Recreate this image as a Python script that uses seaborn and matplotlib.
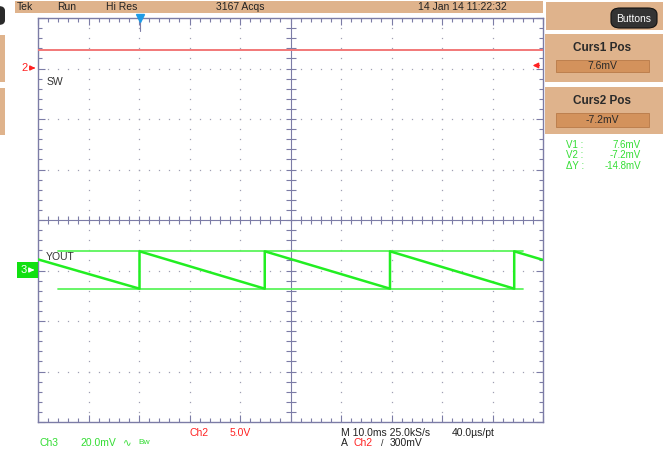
import numpy as np
import pandas as pd
import matplotlib
matplotlib.use("Agg")
import matplotlib.pyplot as plt
from matplotlib.patches import Rectangle, FancyBboxPatch, FancyArrowPatch
import seaborn as sns

# ---- acquisition record (time in ms, 10 ms/div over 10 divisions) ----
time_ms = [0.0, 20.1, 20.1, 44.9, 44.9, 69.7, 69.7, 94.3, 94.3, 100.0]
vout_mV = [4.4, -7.2, 7.6, -7.2, 7.6, -7.2, 7.6, -7.2, 7.6, 4.2]
sw_time_ms = [0.0, 100.0]
sw_V = [1.8, 1.8]

curs1_mV = 7.6
curs2_mV = -7.2
curs_span_ms = [4.0, 96.0]
trig_pos_ms = 20.2
trig_level_V = 0.3

# vertical settings
ch2_scale_V = 5.0        # V/div
ch2_offset_div = 3.0
ch3_scale_mV = 20.0      # mV/div
ch3_offset_div = -1.0

W, H = 663, 459
GRAT = "#7c7ca6"
DOT = "#a0a0b4"
TAN = "#dfb38c"
TAN_DARK = "#d3925c"
GREEN = "#22ee22"
GREEN_TXT = "#33dd33"
RED = "#f27878"
RED_TXT = "#ff2222"
FONT = ["Liberation Sans", "DejaVu Sans"]

sns.set_style("white")
plt.rcParams["font.family"] = FONT


def fp(x, y):
    """screen pixel -> figure fraction"""
    return x / W, 1 - y / H


fig = plt.figure(figsize=(W / 100, H / 100), dpi=100)
fig.patch.set_facecolor("white")

# ---------- main graticule axes ----------
ax = fig.add_axes([38 / W, 1 - 422 / H, 505 / W, 404 / H])
ax.set_xlim(0, 100)
ax.set_ylim(-4, 4)
ax.set_facecolor("white")

# dotted division lines
minor_x = np.arange(0, 100.01, 2.0)
minor_y = np.arange(-4, 4.01, 0.2)
for gx in range(10, 100, 10):
    if gx == 50:
        continue
    ax.plot([gx] * len(minor_y), minor_y, ls="none", marker="s", ms=0.9,
            mec="none", mfc=DOT, zorder=1)
for gy in range(-3, 4):
    if gy == 0:
        continue
    ax.plot(minor_x, [gy] * len(minor_x), ls="none", marker="s", ms=0.9,
            mec="none", mfc=DOT, zorder=1)

# centre cross with minor ticks
ax.axhline(0, color=GRAT, lw=0.8, zorder=1)
ax.axvline(50, color=GRAT, lw=0.8, zorder=1)
ax.plot(minor_x, np.zeros_like(minor_x), ls="none", marker="|", ms=6,
        mew=0.8, color=GRAT, zorder=1)
ax.plot(np.full_like(minor_y, 50), minor_y, ls="none", marker="_", ms=7,
        mew=0.8, color=GRAT, zorder=1)

# border ticks
ax.set_xticks(np.arange(0, 101, 10))
ax.set_xticks(minor_x, minor=True)
ax.set_yticks(np.arange(-4, 5, 1))
ax.set_yticks(minor_y, minor=True)
ax.tick_params(which="both", direction="in", top=True, right=True,
               bottom=True, left=True, labelbottom=False, labelleft=False,
               color=GRAT, width=0.8)
ax.tick_params(which="major", length=5)
ax.tick_params(which="minor", length=3)
for s in ax.spines.values():
    s.set_color(GRAT)
    s.set_linewidth(1.0)

# ---------- traces ----------
df_sw = pd.DataFrame({"t": sw_time_ms,
                      "div": [ch2_offset_div + v / ch2_scale_V for v in sw_V]})
df_out = pd.DataFrame({"t": time_ms,
                       "div": [ch3_offset_div + v / ch3_scale_mV for v in vout_mV]})

# cursors on Ch3
for c in (curs1_mV, curs2_mV):
    yc = ch3_offset_div + c / ch3_scale_mV
    dfc = pd.DataFrame({"t": curs_span_ms, "div": [yc, yc]})
    sns.lineplot(data=dfc, x="t", y="div", ax=ax, color="#5cf55c", lw=1.3,
                 sort=False, estimator=None, zorder=3)

sns.lineplot(data=df_sw, x="t", y="div", ax=ax, color=RED, lw=1.4,
             sort=False, estimator=None, zorder=4)
sns.lineplot(data=df_out, x="t", y="div", ax=ax, color=GREEN, lw=1.8,
             sort=False, estimator=None, zorder=4)
ax.set_xlabel("")
ax.set_ylabel("")

# trigger position marker
ax.plot([trig_pos_ms], [4.0], marker="v", ms=6, color="#1e9be6", mec="#1e9be6",
        clip_on=False, zorder=6)
ax.plot([trig_pos_ms, trig_pos_ms], [3.95, 3.75], color=GRAT, lw=0.8, zorder=5)

# trigger level arrow (right edge)
trig_div = ch2_offset_div + trig_level_V / ch2_scale_V
ax.annotate("", xy=(97.4, trig_div), xytext=(99.8, trig_div),
            arrowprops=dict(arrowstyle="-|>", color=RED_TXT, lw=1.0,
                            mutation_scale=8), zorder=6)

# trace labels
ax.text(1.6, 3.0 - 0.26, "SW", color="#333333", fontsize=7.5, va="center",
        ha="left")
ax.text(1.6, -0.74, "YOUT", color="#333333", fontsize=7.5, va="center",
        ha="left")

# ---------- ground markers left of the graticule ----------
fig.text(*fp(25, 68), "2", color=RED_TXT, fontsize=8, ha="center",
         va="center")
fig.add_artist(FancyArrowPatch(
    fp(30, 68), fp(38, 68), transform=fig.transFigure, arrowstyle="-|>",
    mutation_scale=7, color=RED_TXT, lw=1.0))

fig.add_artist(Rectangle(fp(17, 278), 21 / W, 16 / H, transform=fig.transFigure,
                         facecolor="#11e011", edgecolor="none"))
fig.text(*fp(23.5, 270), "3", color="white", fontsize=8, ha="center",
         va="center")
fig.add_artist(FancyArrowPatch(
    fp(29, 270), fp(37, 270), transform=fig.transFigure, arrowstyle="-|>",
    mutation_scale=7, color="white", lw=1.0))

# ---------- status bar ----------
fig.add_artist(Rectangle(fp(15, 13), (543 - 15) / W, 12 / H,
                         transform=fig.transFigure, facecolor=TAN,
                         edgecolor="none"))
for x, s in [(17, "Tek"), (57, "Run"), (106, "Hi Res"), (216, "3167 Acqs"),
             (418, "14 Jan 14 11:22:32")]:
    fig.text(*fp(x, 7.5), s, fontsize=7.5, color="#222222", va="center",
             ha="left")

# left edge panel stubs
fig.add_artist(FancyBboxPatch(fp(-6, 25), 11 / W, 19 / H,
                              boxstyle="round,pad=0,rounding_size=0.01",
                              transform=fig.transFigure, facecolor="#2a2a2a",
                              edgecolor="none"))
for y0, y1 in [(35, 82), (88, 135)]:
    fig.add_artist(Rectangle(fp(0, y1), 5 / W, (y1 - y0) / H,
                             transform=fig.transFigure, facecolor=TAN,
                             edgecolor="none"))

# ---------- right-hand menu ----------
fig.add_artist(Rectangle(fp(546, 30), (W - 546) / W, 28 / H,
                         transform=fig.transFigure, facecolor=TAN,
                         edgecolor="none"))
fig.add_artist(FancyBboxPatch(fp(611, 28), 46 / W, 20 / H,
                              boxstyle="round,pad=0,rounding_size=0.014",
                              transform=fig.transFigure, facecolor="#333333",
                              edgecolor="#111111", lw=0.8))
fig.text(*fp(634, 18.5), "Buttons", color="white", fontsize=7.5, ha="center",
         va="center")

for (y0, y1, title, by0, by1, val) in [(34, 82, "Curs1 Pos", 60, 72, "7.6mV"),
                                       (87, 134, "Curs2 Pos", 113, 127, "-7.2mV")]:
    fig.add_artist(Rectangle(fp(545, y1), (W - 545) / W, (y1 - y0) / H,
                             transform=fig.transFigure, facecolor=TAN,
                             edgecolor="none"))
    fig.text(*fp(602, y0 + 14), title, fontsize=8.5, fontweight="bold",
             color="#2a2a2a", ha="center", va="center")
    fig.add_artist(Rectangle(fp(556, by1), 93 / W, (by1 - by0) / H,
                             transform=fig.transFigure, facecolor=TAN_DARK,
                             edgecolor="#b87a48", lw=0.6))
    fig.text(*fp(602, (by0 + by1) / 2), val, fontsize=7.5, color="#2a2a2a",
             ha="center", va="center")

delta_mV = curs2_mV - curs1_mV
for y, lab, v in [(145, "V1 :", f"{curs1_mV:.1f}mV"),
                  (155.5, "V2 :", f"{curs2_mV:.1f}mV"),
                  (166, "\u0394Y :", f"{delta_mV:.1f}mV")]:
    fig.text(*fp(566, y), lab, fontsize=7, color=GREEN_TXT, ha="left",
             va="center")
    fig.text(*fp(641, y), v, fontsize=7, color=GREEN_TXT, ha="right",
             va="center")

# ---------- bottom readouts ----------
fig.text(*fp(190, 432.5), "Ch2", fontsize=7.5, color=RED_TXT, va="center")
fig.text(*fp(230, 432.5), f"{ch2_scale_V:.1f}V", fontsize=7.5, color=RED_TXT,
         va="center")
fig.text(*fp(39, 443.5), "Ch3", fontsize=7.5, color=GREEN_TXT, va="center")
fig.text(*fp(80, 443.5), f"{ch3_scale_mV:.1f}mV", fontsize=7.5,
         color=GREEN_TXT, va="center")
fig.text(*fp(123, 443.5), "\u223f", fontsize=7.5, color=GREEN_TXT, va="center",
         family=["DejaVu Sans"])
fig.text(*fp(138, 442), "Bw", fontsize=6, color=GREEN_TXT, va="center")

fig.text(*fp(341, 432.5), "M 10.0ms 25.0kS/s", fontsize=7.5, color="#222222",
         va="center")
fig.text(*fp(452, 432.5), "40.0\u00b5s/pt", fontsize=7.5, color="#222222",
         va="center")
fig.text(*fp(341, 443.5), "A", fontsize=7.5, color="#222222", va="center")
fig.text(*fp(354, 443.5), "Ch2", fontsize=7.5, color=RED_TXT, va="center")
fig.text(*fp(381, 443.5), "/", fontsize=6.5, color="#222222", va="center")
fig.text(*fp(390, 443.5), f"{trig_level_V * 1000:.0f}mV", fontsize=7.5,
         color="#222222", va="center")

fig.savefig("out.png", dpi=100)
